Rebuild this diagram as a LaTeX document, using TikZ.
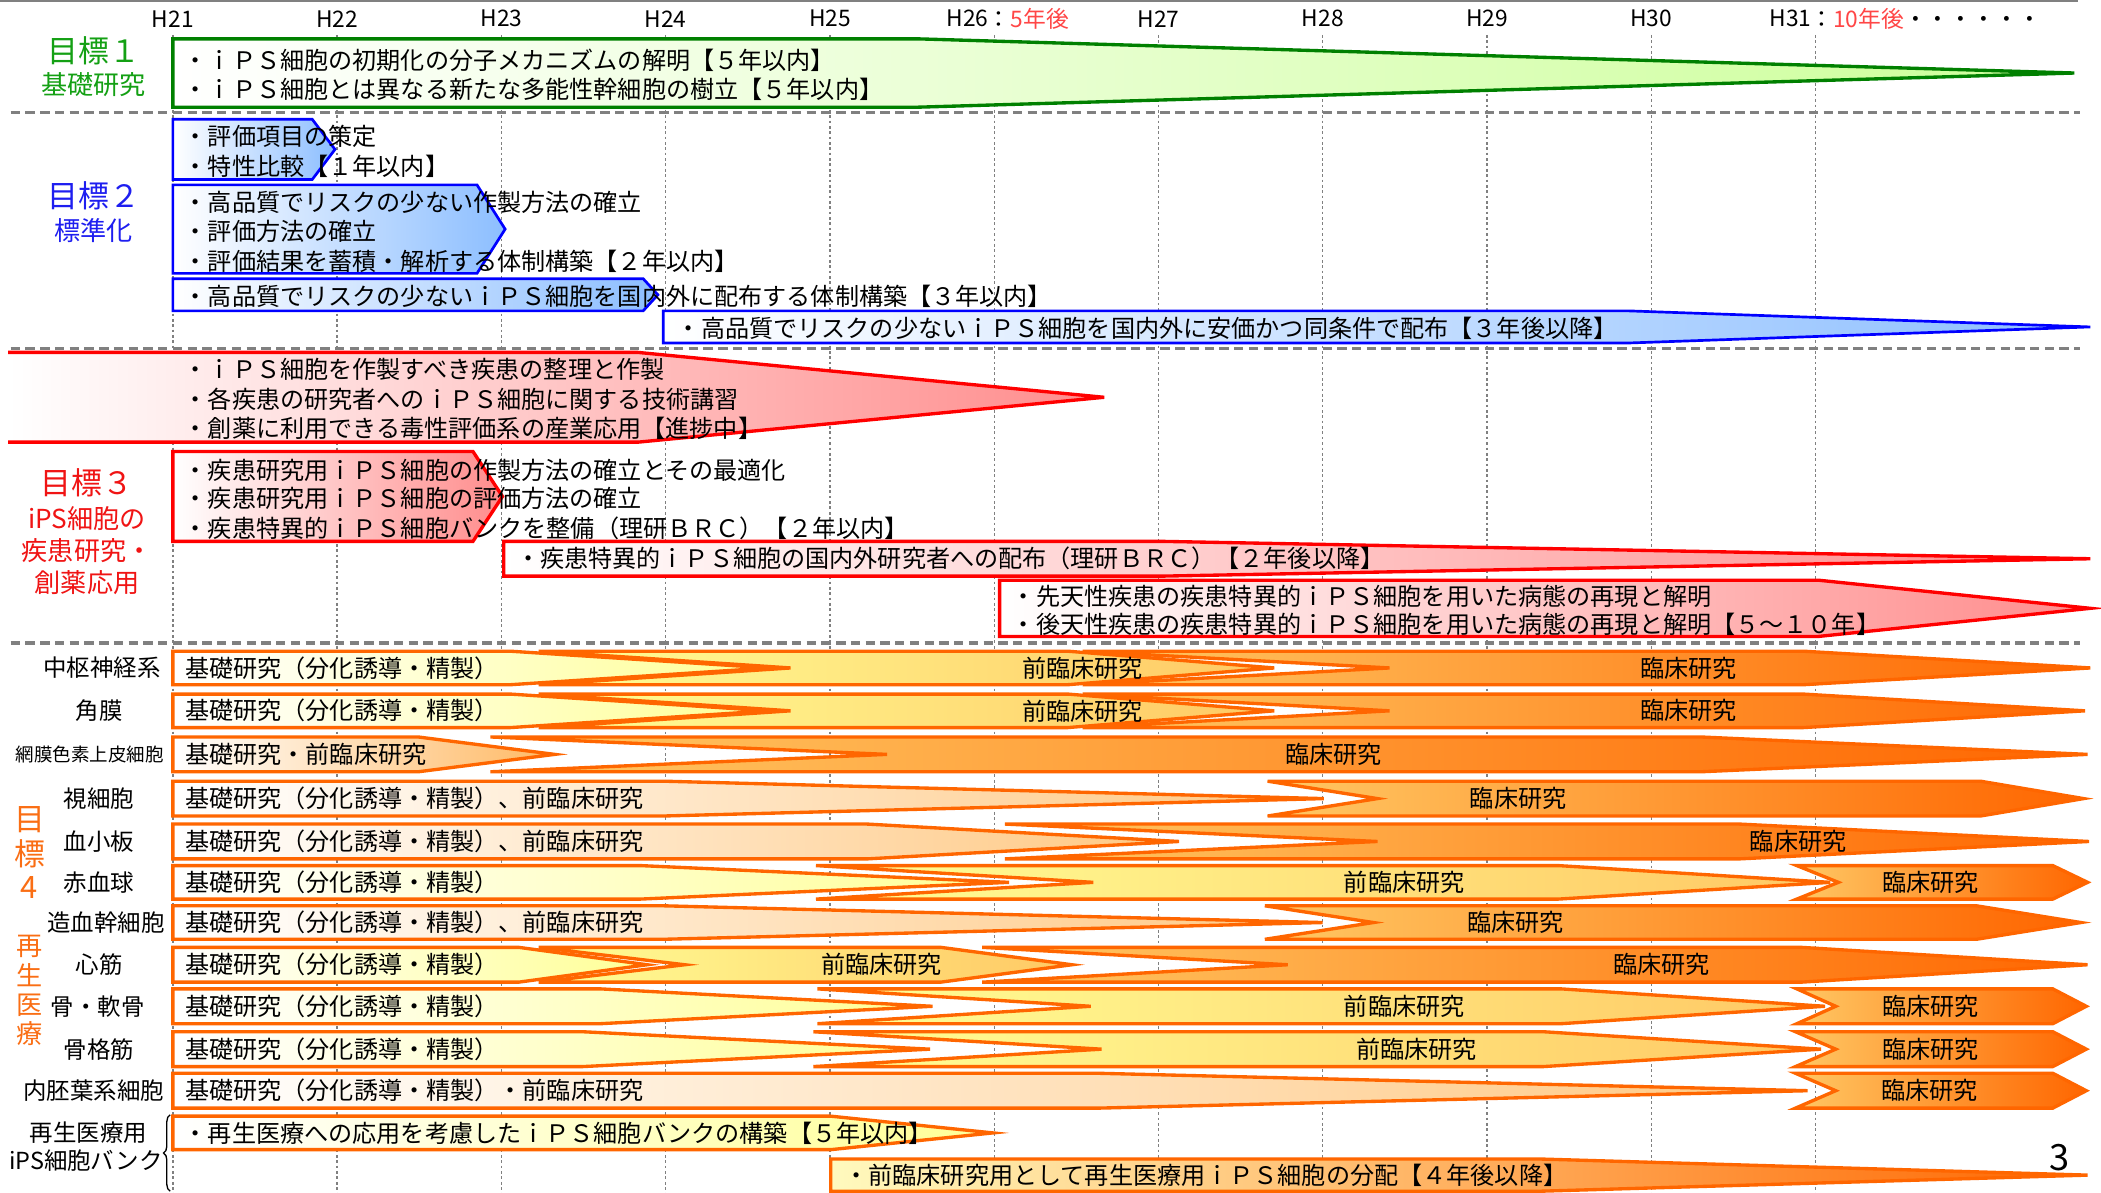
\documentclass[tikz,border=0pt]{standalone}
\usepackage{fontspec}
\setmainfont{Noto Sans CJK JP}
\usetikzlibrary{decorations.pathreplacing}
\definecolor{gstroke}{RGB}{0,128,0}
\definecolor{gfill}{RGB}{204,255,153}
\definecolor{gtext}{RGB}{20,160,20}
\definecolor{bstroke}{RGB}{0,0,255}
\definecolor{bfill}{RGB}{140,190,255}
\definecolor{btext}{RGB}{30,30,240}
\definecolor{rstroke}{RGB}{255,0,0}
\definecolor{rfill}{RGB}{255,140,140}
\definecolor{rtext}{RGB}{240,20,20}
\definecolor{ostroke}{RGB}{255,102,0}
\definecolor{otext}{RGB}{250,110,20}
\definecolor{yel}{RGB}{255,255,150}
\definecolor{ltor}{RGB}{255,200,100}
\definecolor{peach}{RGB}{255,200,130}
\definecolor{peachb}{RGB}{255,185,100}
\definecolor{dpor}{RGB}{255,102,0}
\definecolor{paley}{RGB}{255,250,190}
\definecolor{gridc}{RGB}{128,128,128}
\definecolor{yrred}{RGB}{255,70,70}
\newcommand{\fsz}[1]{\fontsize{#1}{#1}\selectfont}
\newcommand{\segshape}[7]{\path[#7] (#1,#5) -- (#3,#5) -- (#4,{(#5+#6)/2}) -- (#3,#6) -- (#1,#6) -- (#2,{(#5+#6)/2}) -- cycle;}
\begin{document}
\begin{tikzpicture}[x=1pt,y=-1pt,
  tx/.style={anchor=west, inner sep=0pt, font=\fsz{18}},
  tc/.style={anchor=center, inner sep=0pt, font=\fsz{18}},
  yr/.style={inner sep=0pt, font=\fsz{17}},
  rl/.style={inner sep=0pt, font=\fsz{17.5}},
  gridv/.style={draw=gridc, line width=1pt, dash pattern=on 2pt off 2pt},
  sepline/.style={draw=gridc, line width=2.5pt, dash pattern=on 7pt off 4pt},
  gshape/.style={draw=gstroke, line width=2.5pt, left color=white, right color=gfill},
  bshape/.style={draw=bstroke, line width=2pt, left color=white, right color=bfill},
  rshape/.style={draw=rstroke, line width=2.5pt, left color=white, right color=rfill},
  oseg/.style={draw=ostroke, line width=2.5pt},
]
\useasboundingbox (0,0) rectangle (1568,890);
\fill[white] (0,0) rectangle (1568,890);
\draw[gridc, line width=1.5pt] (0,1) -- (1551,1);
% grid
\foreach \k in {0,...,10} \draw[gridv] ({129+122.6*\k},26) -- ({129+122.6*\k},890);
% year labels
\node[yr] (y21) at (129,14) {H21};
\node[yr] (y22) at (251.6,14) {H22};
\node[yr] (y23) at (374.2,14) {H23};
\node[yr] (y24) at (496.8,14) {H24};
\node[yr] (y25) at (619.4,14) {H25};
\node[yr,anchor=east] (y26) at (738,14) {H26};
\node[yr,anchor=west] (y26b) at (737,14) {：\textcolor{yrred}{5年後}};
\node[yr] (y27) at (864.6,14) {H27};
\node[yr] (y28) at (987.2,14) {H28};
\node[yr] (y29) at (1109.8,14) {H29};
\node[yr] (y30) at (1232.4,14) {H30};
\node[yr,anchor=east] (y31) at (1352,14) {H31};
\node[yr,anchor=west] (y31b) at (1351,14) {：\textcolor{yrred}{10年後}・・・・・・};
% separators
\draw[sepline] (8,84) -- (1552,84);
\draw[sepline] (8,260) -- (1552,260);
\draw[sepline] (8,480) -- (1552,480);

% ===== Goal 1 =====
\node[text=gtext, font=\fsz{23}, inner sep=0pt] (g1) at (70,38) {目標１};
\node[text=gtext, font=\fsz{19.5}, inner sep=0pt] (g1s) at (70,63) {基礎研究};
\segshape{129}{129}{685}{1548}{29}{80}{gshape}
\node[tx] (g1a) at (137,45) {・ｉＰＳ細胞の初期化の分子メカニズムの解明【５年以内】};
\node[tx] (g1b) at (137,67) {・ｉＰＳ細胞とは異なる新たな多能性幹細胞の樹立【５年以内】};

% ===== Goal 2 =====
\node[text=btext, font=\fsz{23}, inner sep=0pt] (g2) at (70,146) {目標２};
\node[text=btext, font=\fsz{19.5}, inner sep=0pt] (g2s) at (70,172) {標準化};
\segshape{129}{129}{233}{250}{89}{134}{bshape}
\segshape{129}{129}{356}{377}{138}{204}{bshape}
\segshape{129}{129}{480}{491}{208}{232}{bshape}
\segshape{495}{495}{1215}{1560}{232}{256}{bshape}
\node[tx] (g2a1) at (137,102) {・評価項目の策定};
\node[tx] (g2a2) at (137,124) {・特性比較【１年以内】};
\node[tx] (g2b1) at (137,151) {・高品質でリスクの少ない作製方法の確立};
\node[tx] (g2b2) at (137,173) {・評価方法の確立};
\node[tx] (g2b3) at (137,195) {・評価結果を蓄積・解析する体制構築【２年以内】};
\node[tx] (g2c) at (137,221) {・高品質でリスクの少ないｉＰＳ細胞を国内外に配布する体制構築【３年以内】};
\node[tx] (g2d) at (505,245) {・高品質でリスクの少ないｉＰＳ細胞を国内外に安価かつ同条件で配布【３年後以降】};

% ===== Goal 3 =====
\node[text=rtext, font=\fsz{23}, inner sep=0pt] (g3) at (65,360) {目標３};
\node[text=rtext, font=\fsz{19.5}, inner sep=0pt] (g3a) at (65,387) {iPS細胞の};
\node[text=rtext, font=\fsz{19.5}, inner sep=0pt] (g3b) at (65,411) {疾患研究・};
\node[text=rtext, font=\fsz{19.5}, inner sep=0pt] (g3c) at (65,435) {創薬応用};
\path[left color=white, right color=rfill] (6,263) -- (476,263) -- (824,296.5) -- (476,330) -- (6,330) -- cycle;
\draw[rstroke, line width=2.5pt] (6,263) -- (476,263) -- (824,296.5) -- (476,330) -- (6,330);
\segshape{129}{129}{353}{375}{337}{404}{rshape}
\segshape{376}{376}{866}{1560}{404}{430}{rshape}
\segshape{746}{746}{1357}{1560}{433}{475}{rshape}
\node[tx] (g3e1) at (137,276) {・ｉＰＳ細胞を作製すべき疾患の整理と作製};
\node[tx] (g3e2) at (137,298) {・各疾患の研究者へのｉＰＳ細胞に関する技術講習};
\node[tx] (g3e3) at (137,320) {・創薬に利用できる毒性評価系の産業応用【進捗中】};
\node[tx] (g3f1) at (137,351) {・疾患研究用ｉＰＳ細胞の作製方法の確立とその最適化};
\node[tx] (g3f2) at (137,372) {・疾患研究用ｉＰＳ細胞の評価方法の確立};
\node[tx] (g3f3) at (137,394) {・疾患特異的ｉＰＳ細胞バンクを整備（理研ＢＲＣ）【２年以内】};
\node[tx] (g3g) at (385,417) {・疾患特異的ｉＰＳ細胞の国内外研究者への配布（理研ＢＲＣ）【２年後以降】};
\node[tx] (g3h1) at (755,445) {・先天性疾患の疾患特異的ｉＰＳ細胞を用いた病態の再現と解明};
\node[tx] (g3h2) at (755,466) {・後天性疾患の疾患特異的ｉＰＳ細胞を用いた病態の再現と解明【５～１０年】};

% ===== Goal 4 =====
\node[text=otext, font=\fsz{23}, inner sep=0pt] (g4a) at (22,612) {目};
\node[text=otext, font=\fsz{23}, inner sep=0pt] (g4b) at (22,637) {標};
\node[text=otext, font=\fsz{23}, inner sep=0pt] (g4c) at (22,662) {4};
\node[text=otext, font=\fsz{19.5}, inner sep=0pt] (g4d) at (22,706) {再};
\node[text=otext, font=\fsz{19.5}, inner sep=0pt] (g4e) at (22,728) {生};
\node[text=otext, font=\fsz{19.5}, inner sep=0pt] (g4f) at (22,750) {医};
\node[text=otext, font=\fsz{19.5}, inner sep=0pt] (g4g) at (22,771) {療};
% row labels
\node[rl] (l1) at (76,498.5) {中枢神経系};
\node[rl] (l2) at (74,530.5) {角膜};
\node[inner sep=0pt, font=\fsz{13.8}] (l3) at (67,563) {網膜色素上皮細胞};
\node[rl] (l4) at (74,596) {視細胞};
\node[rl] (l5) at (74,628) {血小板};
\node[rl] (l6) at (74,658.5) {赤血球};
\node[rl] (l7) at (79,688.5) {造血幹細胞};
\node[rl] (l8) at (74,720) {心筋};
\node[rl] (l9) at (73,751) {骨・軟骨};
\node[rl] (l10) at (74,783) {骨格筋};
\node[rl] (l11) at (70,814) {内胚葉系細胞};
\node[rl] (l12a) at (66,845) {再生医療用};
\node[rl] (l12b) at (64,866) {iPS細胞バンク};
\coordinate (brt) at (127,832);
\coordinate (brb) at (127,889);
\draw[decorate, decoration={brace, amplitude=5pt}, line width=1pt] (brb) -- (brt);

% Row 1
\segshape{808}{1037}{1346}{1560}{486}{511}{oseg,left color=ltor,right color=dpor}
\segshape{402}{590}{797}{951}{486}{511}{oseg,left color=yel,right color=ltor}
\segshape{129}{129}{381}{574}{486}{511}{oseg,left color=white,right color=yel}
% Row 2
\segshape{808}{1037}{1346}{1556}{518}{543}{oseg,left color=ltor,right color=dpor}
\segshape{402}{590}{797}{951}{518}{543}{oseg,left color=yel,right color=ltor}
\segshape{129}{129}{381}{574}{518}{543}{oseg,left color=white,right color=yel}
% Row 3
\segshape{366}{662}{1269}{1558}{550}{576}{oseg,left color=ltor,right color=dpor}
\segshape{129}{129}{312}{414}{550}{576}{oseg,left color=white,right color=peachb}
% Row 4
\segshape{946}{1028}{1478}{1555}{583}{609}{oseg,left color=ltor,right color=dpor}
\segshape{129}{129}{495}{988}{583}{609}{oseg,left color=white,right color=peach}
% Row 5
\segshape{750}{1028}{1298}{1559}{615}{641}{oseg,left color=ltor,right color=dpor}
\segshape{129}{129}{647}{880}{615}{641}{oseg,left color=white,right color=peach}
% Row 6
\segshape{1341}{1372}{1532}{1558}{646}{671}{oseg,left color=ltor,right color=dpor}
\segshape{609}{816}{1163}{1366}{646}{671}{oseg,left color=yel,right color=ltor}
\segshape{129}{129}{478}{753}{646}{671}{oseg,left color=white,right color=yel}
% Row 7
\segshape{944}{1025}{1475}{1553}{676}{701}{oseg,left color=ltor,right color=dpor}
\segshape{129}{129}{495}{987}{676}{701}{oseg,left color=white,right color=peach}
% Row 8
\segshape{733}{961}{1344}{1558}{707}{733}{oseg,left color=ltor,right color=dpor}
\segshape{402}{511}{702}{800}{707}{733}{oseg,left color=yel,right color=ltor}
\segshape{129}{129}{387}{483}{707}{733}{oseg,left color=white,right color=yel}
% Row 9
\segshape{1341}{1370}{1532}{1557}{738}{764}{oseg,left color=ltor,right color=dpor}
\segshape{610}{814}{1165}{1362}{738}{764}{oseg,left color=yel,right color=ltor}
\segshape{129}{129}{448}{696}{738}{764}{oseg,left color=white,right color=yel}
% Row 10
\segshape{1340}{1370}{1532}{1557}{770}{796}{oseg,left color=ltor,right color=dpor}
\segshape{607}{822}{1152}{1359}{770}{796}{oseg,left color=yel,right color=ltor}
\segshape{129}{129}{435}{694}{770}{796}{oseg,left color=white,right color=yel}
% Row 11
\segshape{1340}{1370}{1532}{1557}{801}{827}{oseg,left color=ltor,right color=dpor}
\segshape{129}{129}{820}{1349}{801}{827}{oseg,left color=white,right color=peach}
% Row 12
\segshape{129}{129}{620}{741}{833}{858}{oseg,left color=white,right color=yel}
% Row 13
\segshape{620}{620}{1150}{1558}{865}{889}{oseg,left color=paley,right color=dpor}

% row texts
\node[tx] (r1a) at (138,498.5) {基礎研究（分化誘導・精製）};
\node[tc] (r1b) at (808,498.5) {前臨床研究};
\node[tc] (r1c) at (1260,498.5) {臨床研究};
\node[tx] (r2a) at (138,530.5) {基礎研究（分化誘導・精製）};
\node[tc] (r2b) at (808,530.5) {前臨床研究};
\node[tc] (r2c) at (1260,530.5) {臨床研究};
\node[tx] (r3a) at (138,563) {基礎研究・前臨床研究};
\node[tc] (r3c) at (995,563) {臨床研究};
\node[tx] (r4a) at (138,596) {基礎研究（分化誘導・精製）、前臨床研究};
\node[tc] (r4c) at (1133,596) {臨床研究};
\node[tx] (r5a) at (138,628) {基礎研究（分化誘導・精製）、前臨床研究};
\node[tc] (r5c) at (1342,628) {臨床研究};
\node[tx] (r6a) at (138,658.5) {基礎研究（分化誘導・精製）};
\node[tc] (r6b) at (1048,658.5) {前臨床研究};
\node[tc] (r6c) at (1441,658.5) {臨床研究};
\node[tx] (r7a) at (138,688.5) {基礎研究（分化誘導・精製）、前臨床研究};
\node[tc] (r7c) at (1131,688.5) {臨床研究};
\node[tx] (r8a) at (138,720) {基礎研究（分化誘導・精製）};
\node[tc] (r8b) at (658,720) {前臨床研究};
\node[tc] (r8c) at (1240,720) {臨床研究};
\node[tx] (r9a) at (138,751) {基礎研究（分化誘導・精製）};
\node[tc] (r9b) at (1048,751) {前臨床研究};
\node[tc] (r9c) at (1441,751) {臨床研究};
\node[tx] (r10a) at (138,783) {基礎研究（分化誘導・精製）};
\node[tc] (r10b) at (1057,783) {前臨床研究};
\node[tc] (r10c) at (1441,783) {臨床研究};
\node[tx] (r11a) at (138,814) {基礎研究（分化誘導・精製）・前臨床研究};
\node[tc] (r11c) at (1440,814) {臨床研究};
\node[tx] (r12a) at (137,845.5) {・再生医療への応用を考慮したｉＰＳ細胞バンクの構築【５年以内】};
\node[tx] (r13a) at (630,877) {・前臨床研究用として再生医療用ｉＰＳ細胞の分配【４年後以降】};
\node[inner sep=0pt, font=\fsz{27}] (pg) at (1537,864) {3};
\end{tikzpicture}
\end{document}
